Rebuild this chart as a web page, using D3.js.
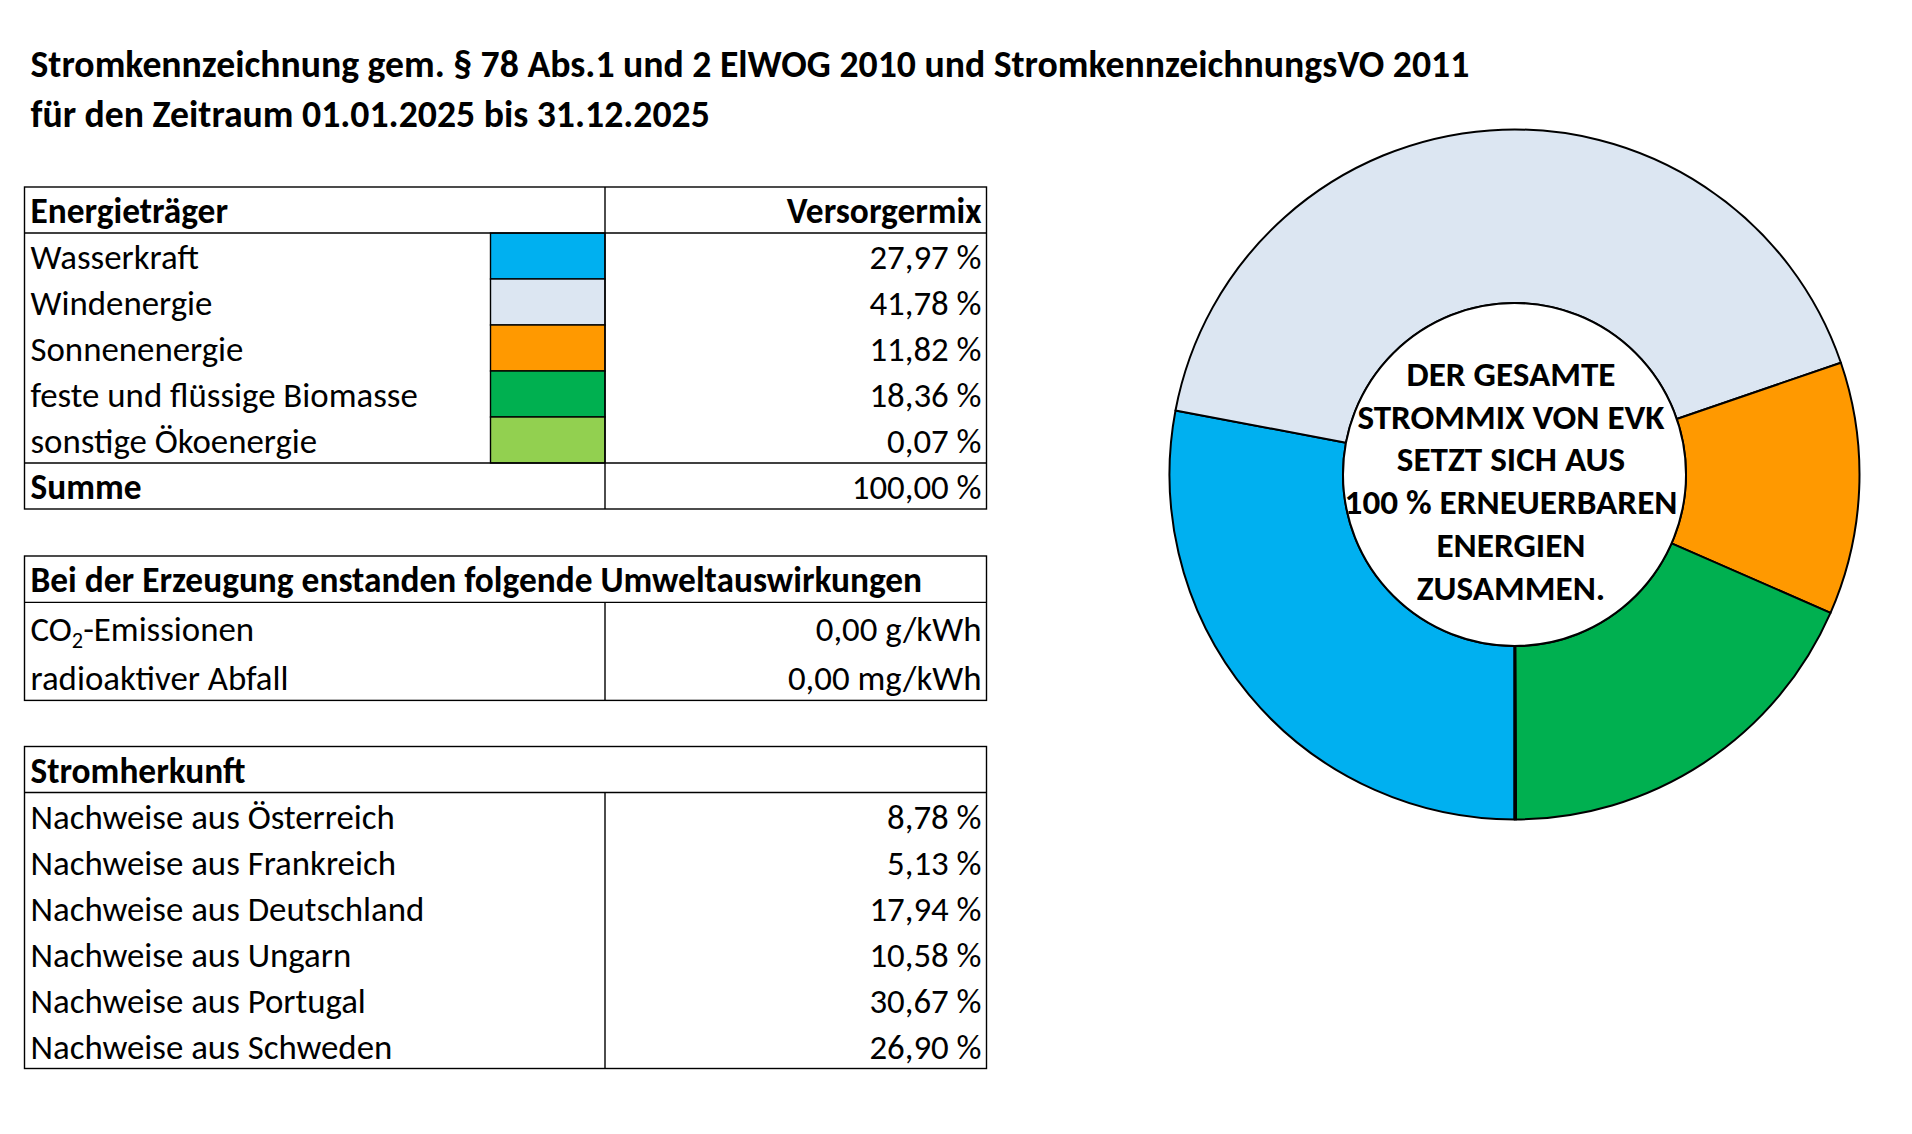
<!DOCTYPE html>
<html>
<head>
<meta charset="utf-8">
<script src="https://cdn.jsdelivr.net/npm/d3@7"></script>
<style>
  html, body { margin: 0; padding: 0; background: #fff; }
  svg { display: block; }
</style>
</head>
<body>
<svg id="chart"></svg>
<script>
// Daten
const titleLines = [
  "Stromkennzeichnung gem. § 78 Abs.1 und 2 ElWOG 2010 und StromkennzeichnungsVO 2011",
  "für den Zeitraum 01.01.2025 bis 31.12.2025",
];
const energyHeader = ["Energieträger", "Versorgermix"];
const energyLabels = [
  "Wasserkraft",
  "Windenergie",
  "Sonnenenergie",
  "feste und flüssige Biomasse",
  "sonstige Ökoenergie",
];
const energyShares = [27.97, 41.78, 11.82, 18.36, 0.07];
const energyColors = ["#00B0F0", "#DCE6F2", "#FF9900", "#00B050", "#92D050"];
const totalLabel = "Summe";
const totalShare = 100.0;

const impactHeader = "Bei der Erzeugung enstanden folgende Umweltauswirkungen";
const impactLabels = [["CO", "2", "-Emissionen"], ["radioaktiver Abfall"]];
const impactValues = [0.0, 0.0];
const impactUnits = ["g/kWh", "mg/kWh"];

const originHeader = "Stromherkunft";
const originLabels = [
  "Nachweise aus Österreich",
  "Nachweise aus Frankreich",
  "Nachweise aus Deutschland",
  "Nachweise aus Ungarn",
  "Nachweise aus Portugal",
  "Nachweise aus Schweden",
];
const originShares = [8.78, 5.13, 17.94, 10.58, 30.67, 26.9];

const centerLines = [
  "DER GESAMTE",
  "STROMMIX VON EVK",
  "SETZT SICH AUS",
  "100 % ERNEUERBAREN",
  "ENERGIEN",
  "ZUSAMMEN.",
];

// Layout
const width = 1912;
const height = 1134;
const FONT = "Carlito, Calibri, 'Liberation Sans', Arial, sans-serif";
const x0 = 24.5, x1 = 986.5, xDiv = 605, xSwatch = 490.5;
const padL = 6, padR = 5;
const lineW = 1.4;

const de = d3.formatLocale({ decimal: ",", thousands: ".", grouping: [3], currency: ["", " €"] });
const fmt = de.format(".2f");

const svg = d3.select("#chart").attr("width", width).attr("height", height);

// Schriftgröße an die Vorlage anpassen
function fitSize(text, weight, target) {
  const t = svg.append("text")
    .attr("font-family", FONT).attr("font-weight", weight)
    .attr("font-size", 100).text(text);
  const w = t.node().getComputedTextLength();
  t.remove();
  return (100 * target) / w;
}
const bodySize = fitSize("Nachweise aus Deutschland", 400, 394);
const boldSize = fitSize("100 % ERNEUERBAREN", 700, 333);
const headSize = fitSize(impactHeader, 700, 892);
const titleSize = (fitSize(titleLines[0], 700, 1441) + fitSize(titleLines[1], 700, 679)) / 2;

function txt(g, x, y, s, opts = {}) {
  return g.append("text")
    .attr("x", x).attr("y", y)
    .attr("font-family", FONT)
    .attr("font-size", opts.size || (opts.bold ? headSize : bodySize))
    .attr("font-weight", opts.bold ? 700 : 400)
    .attr("text-anchor", opts.anchor || "start")
    .attr("fill", "#000")
    .text(s);
}
function hline(g, y, xa = x0, xb = x1) {
  g.append("line").attr("x1", xa).attr("x2", xb).attr("y1", y).attr("y2", y)
    .attr("stroke", "#000").attr("stroke-width", lineW);
}
function vline(g, x, ya, yb) {
  g.append("line").attr("x1", x).attr("x2", x).attr("y1", ya).attr("y2", yb)
    .attr("stroke", "#000").attr("stroke-width", lineW);
}

// Titel
titleLines.forEach((s, i) => txt(svg, 30.5, 77 + i * 50, s, { bold: true, size: titleSize }));

// Tabelle 1: Energieträger
{
  const g = svg.append("g");
  const top = 187, headH = 46, rowH = 46;
  const n = energyLabels.length + 1;
  const y = d3.scaleLinear().domain([0, n]).range([top + headH, top + headH + n * rowH]);
  const bottom = y(n);

  txt(g, x0 + padL, top + headH - 10, energyHeader[0], { bold: true });
  txt(g, x1 - padR, top + headH - 10, energyHeader[1], { bold: true, anchor: "end" });

  g.selectAll("rect.swatch")
    .data(energyColors)
    .join("rect")
    .attr("class", "swatch")
    .attr("x", xSwatch).attr("width", xDiv - xSwatch)
    .attr("y", (d, i) => y(i)).attr("height", rowH)
    .attr("fill", (d) => d)
    .attr("stroke", "#000").attr("stroke-width", lineW);

  energyLabels.forEach((s, i) => {
    txt(g, x0 + padL, y(i + 1) - 10, s);
    txt(g, x1 - padR, y(i + 1) - 10, fmt(energyShares[i]) + " %", { anchor: "end" });
  });
  txt(g, x0 + padL, y(n) - 10, totalLabel, { bold: true });
  txt(g, x1 - padR, y(n) - 10, fmt(totalShare) + " %", { anchor: "end" });

  g.append("rect").attr("x", x0).attr("y", top).attr("width", x1 - x0).attr("height", bottom - top)
    .attr("fill", "none").attr("stroke", "#000").attr("stroke-width", lineW);
  hline(g, y(0));
  hline(g, y(n - 1));
  vline(g, xDiv, top, bottom);
}

// Tabelle 2: Umweltauswirkungen
{
  const g = svg.append("g");
  const top = 556, headH = 46.4, rowH = 49;
  const n = impactLabels.length;
  const y = d3.scaleLinear().domain([0, n]).range([top + headH, top + headH + n * rowH]);
  const bottom = y(n);

  txt(g, x0 + padL, top + headH - 10, impactHeader, { bold: true });
  impactLabels.forEach((parts, i) => {
    const t = txt(g, x0 + padL, y(i + 1) - 10, parts[0]);
    if (parts.length > 1) {
      t.append("tspan").attr("font-size", bodySize * 0.64).attr("dy", bodySize * 0.2).text(parts[1]);
      t.append("tspan").attr("dy", -bodySize * 0.2).text(parts[2]);
    }
    txt(g, x1 - padR, y(i + 1) - 10, fmt(impactValues[i]) + " " + impactUnits[i], { anchor: "end" });
  });

  g.append("rect").attr("x", x0).attr("y", top).attr("width", x1 - x0).attr("height", bottom - top)
    .attr("fill", "none").attr("stroke", "#000").attr("stroke-width", lineW);
  hline(g, y(0));
  vline(g, xDiv, y(0), bottom);
}

// Tabelle 3: Stromherkunft
{
  const g = svg.append("g");
  const top = 746.5, headH = 46, rowH = 46;
  const n = originLabels.length;
  const y = d3.scaleLinear().domain([0, n]).range([top + headH, top + headH + n * rowH]);
  const bottom = y(n);

  txt(g, x0 + padL, top + headH - 10, originHeader, { bold: true });
  originLabels.forEach((s, i) => {
    txt(g, x0 + padL, y(i + 1) - 10, s);
    txt(g, x1 - padR, y(i + 1) - 10, fmt(originShares[i]) + " %", { anchor: "end" });
  });

  g.append("rect").attr("x", x0).attr("y", top).attr("width", x1 - x0).attr("height", bottom - top)
    .attr("fill", "none").attr("stroke", "#000").attr("stroke-width", lineW);
  hline(g, y(0));
  vline(g, xDiv, y(0), bottom);
}

// Ringdiagramm
{
  const cx = 1514.5, cy = 474.5, rOuter = 345, rInner = 171.5;
  const g = svg.append("g").attr("transform", `translate(${cx}, ${cy})`);
  const pie = d3.pie().sort(null).startAngle(Math.PI).endAngle(3 * Math.PI);
  const arc = d3.arc().innerRadius(rInner).outerRadius(rOuter);

  g.selectAll("path.slice")
    .data(pie(energyShares))
    .join("path")
    .attr("class", "slice")
    .attr("d", arc)
    .attr("fill", (d, i) => energyColors[i])
    .attr("stroke", "#000")
    .attr("stroke-width", 2)
    .attr("stroke-linejoin", "round");

  g.append("circle").attr("r", rInner)
    .attr("fill", "#fff").attr("stroke", "#000").attr("stroke-width", 2);

  const lineH = 42.9;
  centerLines.forEach((s, i) => {
    txt(g, -3.5, 18.4 + (i - 2.5) * lineH, s, { bold: true, size: boldSize, anchor: "middle" });
  });
}
</script>
</body>
</html>
